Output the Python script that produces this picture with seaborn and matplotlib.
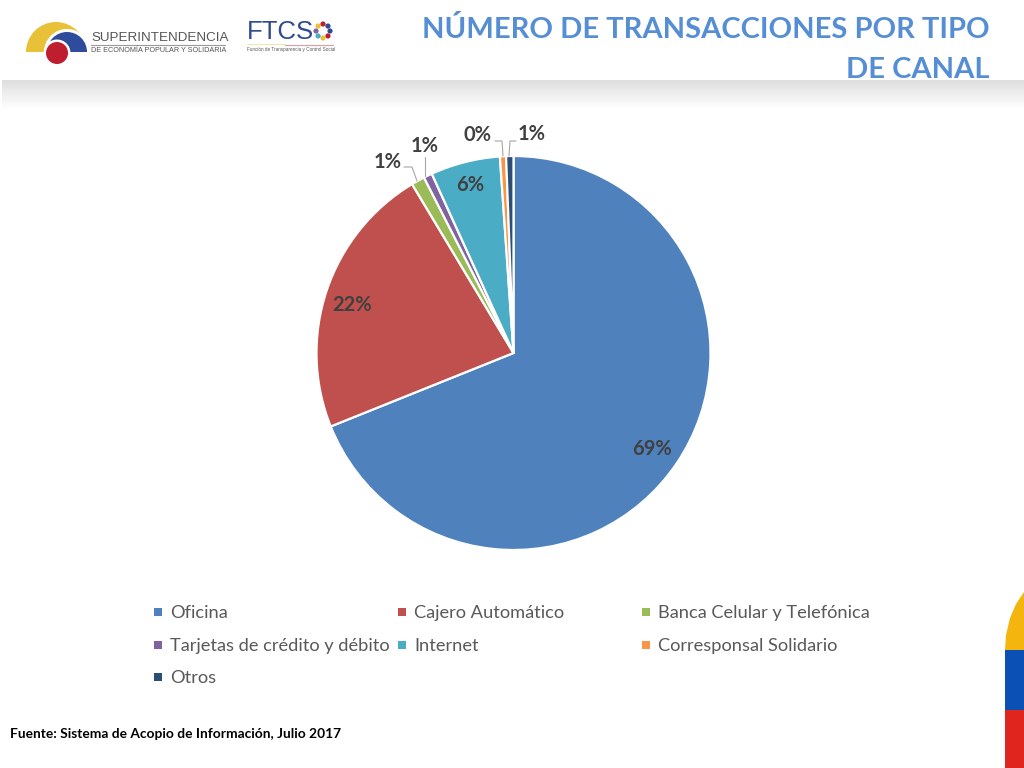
import numpy as np
import seaborn as sns
import matplotlib.pyplot as plt
from matplotlib.patches import Circle, Polygon, Rectangle, Wedge

# data
canales = [
    "Oficina",
    "Cajero Automático",
    "Banca Celular y Telefónica",
    "Tarjetas de crédito y débito",
    "Internet",
    "Corresponsal Solidario",
    "Otros",
]
porcentajes = [68.85, 22.45, 1.1, 0.7, 5.7, 0.5, 0.6]
colores = ["#4F81BD", "#C0504D", "#9BBB59", "#8064A2", "#4BACC6", "#F79646", "#2C4D75"]
titulo = ["NÚMERO DE TRANSACCIONES POR TIPO", "DE CANAL"]
fuente = "Fuente: Sistema de Acopio de Información, Julio 2017"

sns.set_theme(style="white")
plt.rcParams["font.family"] = ["Lato", "DejaVu Sans"]
palette = sns.color_palette(colores)

W, H = 1024, 768
fig = plt.figure(figsize=(W / 100, H / 100), dpi=100, facecolor="white")


def pixel_axes():
    # full-figure axes in pixel coordinates
    a = fig.add_axes([0, 0, 1, 1])
    a.set_xlim(0, W)
    a.set_ylim(H, 0)
    a.axis("off")
    a.patch.set_alpha(0)
    return a


bg = pixel_axes()

# shadow band under the header
sombra = np.linspace(0.87, 1.0, 30).reshape(-1, 1)
bg.imshow(sombra, extent=(2, W, 110, 80), cmap="gray", vmin=0, vmax=1, aspect="auto", zorder=0)
bg.set_xlim(0, W)
bg.set_ylim(H, 0)

# logo
bg.add_patch(Wedge((56, 52), 30, 180, 360, color="#E8C138", lw=0))
bg.add_patch(Wedge((67, 52), 23, 180, 360, color="white", lw=0))
bg.add_patch(Wedge((67, 52), 20, 180, 360, color="#2F4B9B", lw=0))
bg.add_patch(Circle((57, 53), 13.5, color="white", lw=0))
bg.add_patch(Circle((57, 53), 11, color="#BE1E2D", lw=0))
bg.text(91, 38, "SUPERINTENDENCIA", fontsize=9.6, color="#555555", family="Liberation Sans",
        ha="left", va="center")
bg.plot([91, 225], [44.5, 44.5], color="#999999", lw=0.8)
bg.text(91, 50, "DE ECONOMÍA POPULAR Y SOLIDARIA", fontsize=5.2, color="#555555",
        family="Liberation Sans", ha="left", va="center")
bg.text(247, 32, "FTCS", fontsize=18.5, color="#2F4B8F", family="Liberation Sans", ha="left", va="center")
anillo = ["#2F4B8F", "#BE1E2D", "#E8C138", "#4BACC6", "#8064A2", "#E8C138", "#BE1E2D", "#2F4B8F"]
for ang, c in zip(np.linspace(0, 2 * np.pi, 8, endpoint=False), anillo):
    bg.add_patch(Circle((323 + 7 * np.cos(ang), 31 + 7 * np.sin(ang)), 2.6, color=c, lw=0))
bg.plot([247, 285], [44, 44], color="#EFE7A0", lw=0.7)
bg.plot([285, 333], [44.5, 44.5], color="#C9A9A9", lw=0.9)
bg.text(247, 50, "Función de Transparencia y Control Social", fontsize=3.3, color="#555555",
        family="Liberation Sans", ha="left", va="center")

# flag corner
bg.add_patch(Polygon([(1005, 650), (1006, 635), (1010, 618), (1016, 604), (1024, 592), (1024, 650)],
                     color="#F5B50F", lw=0))
bg.add_patch(Rectangle((1005, 650), 19, 60, color="#0B50B4", lw=0))
bg.add_patch(Rectangle((1005, 710), 19, 58, color="#E0251F", lw=0))

# title
for linea, y in zip(titulo, [29, 70]):
    bg.text(990, y, linea, fontsize=21, fontweight="bold", color="#558ED5", ha="right", va="center")

# pie
cx, cy, r = 513.5, 353, 197
ax = fig.add_axes([(cx - r) / W, 1 - (cy + r) / H, 2 * r / W, 2 * r / H])
ax.pie(porcentajes, colors=palette, startangle=90, counterclock=False, radius=1,
       wedgeprops={"edgecolor": "white", "linewidth": 1.6})
ax.set_xlim(-1, 1)
ax.set_ylim(-1, 1)

fg = pixel_axes()

# slice labels, same order as canales
etiquetas = [f"{p:.0f}%" for p in porcentajes]
pos_etiquetas = [(652, 449), (352, 305), (388, 162), (425, 146), (470, 185), (477, 135), (532, 134)]
for txt, (x, y) in zip(etiquetas, pos_etiquetas):
    fg.text(x, y, txt, fontsize=14.5, fontweight="bold", color="#404040", ha="center", va="center")

# leader lines
for xs, ys in [([404, 412, 417], [167, 167, 181]), ([425, 425], [157, 176]),
               ([495, 502, 503], [141, 141, 156]), ([516, 510, 509], [141, 141, 156])]:
    fg.plot(xs, ys, color="#A6A6A6", lw=0.8)

# legend laid out row by row, as in the slide
col_x = [154, 398, 642]
fila_y = [612, 645, 677]
for i, (nombre, c) in enumerate(zip(canales, palette)):
    x = col_x[i % 3]
    y = fila_y[i // 3]
    fg.add_patch(Rectangle((x, y - 4), 8, 8, color=c, lw=0))
    fg.text(x + 16, y + 1, nombre, fontsize=13.15, color="#595959", ha="left", va="center")

fg.text(10, 734, fuente, fontsize=9.95, fontweight="bold", color="black", ha="left", va="center")

fig.savefig("out.png", dpi=100)
